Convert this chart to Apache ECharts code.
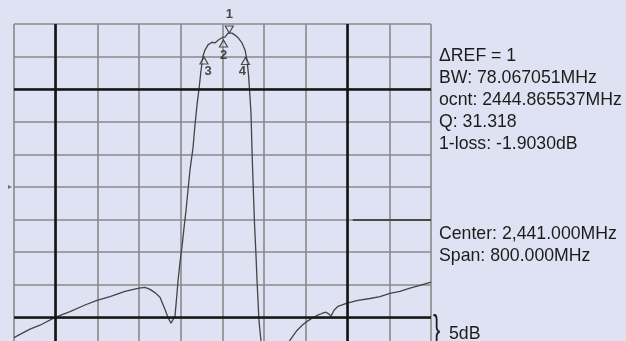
<!DOCTYPE html>
<html>
<head>
<meta charset="utf-8">
<script src="https://cdn.jsdelivr.net/npm/echarts@6/dist/echarts.min.js"></script>
<style>
html,body{margin:0;padding:0;background:#dfe2f2;width:626px;height:341px;overflow:hidden;}
#chart{width:626px;height:350px;}
</style>
</head>
<body>
<div id="chart"></div>
<script>
// ---- data ----
const CENTER_MHZ = 2441;
const SPAN_MHZ = 800;
const DB_PER_DIV = 5;
const traceFreqMHz = [2041, 2052.5, 2071.7, 2090.9, 2119.7, 2148.4, 2177.2, 2200.2, 2225.2, 2253.9, 2280.8, 2292.3, 2301.9, 2311.5, 2321.1, 2330.7, 2336.4, 2342.2, 2346.0, 2349.9, 2353.7, 2355.6, 2359.5, 2363.3, 2367.1, 2371.0, 2374.8, 2378.6, 2384.4, 2388.2, 2392.1, 2395.9, 2399.8, 2403.6, 2407.4, 2413.2, 2420.9, 2426.6, 2432.4, 2440.0, 2445.8, 2451.6, 2459.2, 2465.0, 2470.7, 2478.4, 2484.2, 2488.0, 2490.9, 2492.8, 2495.7, 2497.6, 2499.5, 2502.4, 2505.3, 2507.2, 2511.0, 2514.9, 2518.7, 2532.1, 2551.3, 2562.8, 2570.5, 2583.9, 2595.4, 2608.9, 2622.3, 2631.9, 2639.6, 2645.3, 2649.2, 2654.9, 2662.6, 2679.9, 2701.0, 2724.0, 2743.2, 2762.3, 2781.5, 2800.7, 2819.9, 2841];
const traceDb = [-48.1, -47.6, -46.8, -46.2, -45.0, -44.1, -43.1, -42.4, -41.8, -41.0, -40.5, -40.4, -40.7, -41.2, -41.9, -43.8, -45.0, -45.9, -45.9, -44.8, -41.3, -39.5, -36.5, -34.2, -31.3, -28.6, -25.5, -22.4, -19.0, -15.5, -12.4, -10.0, -7.1, -4.9, -4.0, -3.2, -2.8, -2.9, -2.5, -2.1, -2.0, -1.4, -1.4, -1.7, -2.1, -2.9, -4.0, -5.5, -7.8, -10.0, -13.7, -19.3, -24.0, -30.6, -35.5, -39.3, -45.5, -48.7, -52.4, -57.7, -57.7, -50.4, -48.5, -47.0, -46.1, -45.3, -44.7, -44.4, -44.2, -44.5, -44.8, -43.9, -43.3, -42.8, -42.4, -42.1, -41.8, -41.3, -41.0, -40.5, -40.1, -39.6];
const markerIds = ['1', '2', '3', '4'];
const markerFreqMHz = [2454.0, 2442.9, 2405.5, 2485.1];
const markerDb = [-0.84, -2.99, -5.60, -5.68];
const boldFreqLinesMHz = [2121, 2681];
const boldDbLines = [-10, -45];
const limitFreqMHz = [2691, 2841];
const limitDb = -30;
const refLevelDb = -25;
const infoLines = ['\u0394REF = 1', 'BW: 78.067051MHz', 'ocnt: 2444.865537MHz', 'Q: 31.318', '1-loss: -1.9030dB'];
const settingLines = ['Center: 2,441.000MHz', 'Span: 800.000MHz'];
const scaleLabel = '5dB';

// ---- build ----
const half = SPAN_MHZ / 2;
const off = f => +(f - CENTER_MHZ).toFixed(2);
const traceData = traceFreqMHz.map((f, i) => [off(f), traceDb[i]]);
const FONT = '"Liberation Sans", Arial, sans-serif';
const TXT = '#1c1c1c';
const TSIZE = '17.7px ';

const markerData = markerIds.map((id, i) => {
  const down = i === 0;
  const lblOff = [[0, 0], [0, 0], [4, 0], [-3, 0]][i];
  return {
    value: [off(markerFreqMHz[i]), markerDb[i]],
    symbolRotate: down ? 180 : 0,
    label: {
      show: true, formatter: id,
      position: down ? 'top' : 'bottom',
      distance: down ? 4 : (i === 1 ? 1 : 0),
      offset: lblOff
    }
  };
});

const chart = echarts.init(document.getElementById('chart'), null, {renderer: 'canvas'});
const option = {
  backgroundColor: '#dfe2f2',
  animation: false,
  grid: {left: 14, top: 24, width: 417, height: 326, containLabel: false},
  xAxis: {
    type: 'value', min: -half, max: half, interval: SPAN_MHZ / 10,
    axisLine: {show: false}, axisTick: {show: false}, axisLabel: {show: false},
    splitLine: {show: true, lineStyle: {color: '#8a8a8a', width: 1.6}}
  },
  yAxis: {
    type: 'value', min: -10 * DB_PER_DIV, max: 0, interval: DB_PER_DIV,
    axisLine: {show: false}, axisTick: {show: false}, axisLabel: {show: false},
    splitLine: {show: true, lineStyle: {color: '#8a8a8a', width: 1.6}}
  },
  series: [
    {
      type: 'line', data: traceData, showSymbol: false, clip: true,
      lineStyle: {color: '#444', width: 1.3}, z: 3,
      markLine: {
        silent: true, symbol: ['none', 'none'], label: {show: false},
        lineStyle: {type: 'solid', color: '#151515', width: 2.6},
        data: [
          ...boldFreqLinesMHz.map(f => ({xAxis: off(f)})),
          ...boldDbLines.map(v => ({yAxis: v})),
          [{coord: [off(limitFreqMHz[0]), limitDb], lineStyle: {color: '#4a4a4a', width: 2.2}},
           {coord: [off(limitFreqMHz[1]), limitDb]}]
        ]
      }
    },
    {
      type: 'scatter', data: markerData, symbol: 'triangle', symbolSize: [8, 7],
      itemStyle: {color: 'rgba(223,226,242,0.6)', borderColor: '#2a2a2a', borderWidth: 1.2},
      label: {color: '#222', fontFamily: FONT, fontSize: 13, fontWeight: 'bold'},
      z: 5
    },
    {
      type: 'scatter', data: [[-half, refLevelDb]], symbol: 'triangle', symbolRotate: -90,
      symbolSize: [4, 4], symbolOffset: [-4, 0], itemStyle: {color: '#555'}, z: 5
    }
  ],
  graphic: [
    ...infoLines.map((t, i) => ({
      type: 'text', x: 439, y: 56 + i * 22,
      style: {text: t, font: TSIZE + FONT, fill: TXT, verticalAlign: 'middle'}
    })),
    ...settingLines.map((t, i) => ({
      type: 'text', x: 439, y: 234 + i * 22,
      style: {text: t, font: TSIZE + FONT, fill: TXT, verticalAlign: 'middle'}
    })),
    {type: 'text', x: 433, y: 331, scaleX: 0.6,
     style: {text: '}', font: '36px ' + FONT, fill: TXT, verticalAlign: 'middle'}},
    {type: 'text', x: 449, y: 334,
     style: {text: scaleLabel, font: TSIZE + FONT, fill: TXT, verticalAlign: 'middle'}}
  ]
};
chart.setOption(option);
</script>
</body>
</html>
